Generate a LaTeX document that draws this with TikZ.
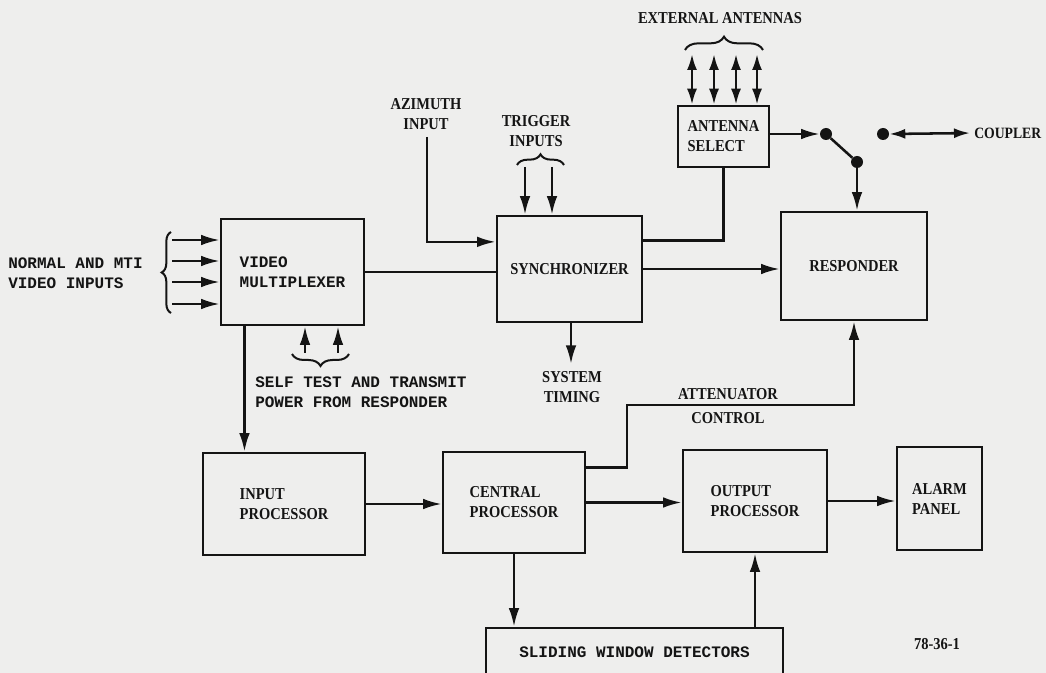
\documentclass[tikz,border=0pt]{standalone}
\usepackage{fontspec}
\setmainfont{Liberation Serif}
\newfontfamily\serifcond{Liberation Serif}[FakeStretch=0.87]
\newfontfamily\monofnt{Liberation Mono}
\usetikzlibrary{arrows.meta,decorations.pathreplacing,calc}
\newcommand\serifbf{\fontsize{12.5}{15}\selectfont\serifcond\bfseries}
\newcommand\monobf{\fontsize{12}{15}\selectfont\monofnt\bfseries}
\definecolor{paper}{RGB}{238,238,237}
\definecolor{ink}{RGB}{20,20,20}
\begin{document}
\begin{tikzpicture}[x=0.75pt,y=-0.75pt,
  box/.style={draw=ink,line width=1.9pt,inner sep=0pt,align=left,font=\serifbf,text=ink},
  lbl/.style={inner sep=0pt,align=center,font=\serifbf,text=ink},
  mlbl/.style={inner sep=0pt,align=left,font=\monobf,text=ink},
  wire/.style={draw=ink,line width=1.9pt},
  arr/.style={wire,-{Latex[length=14pt,width=8pt]}},
  darr/.style={wire,{Latex[length=12pt,width=7.5pt]}-{Latex[length=12pt,width=7.5pt]}},
  brc/.style={draw=ink,line width=1.5pt,decorate,decoration={brace,amplitude=#1}},
  dot/.style={circle,fill=ink,inner sep=0pt,minimum size=9pt}]
\useasboundingbox (0,0) rectangle (1046,673);
\clip (0,0) rectangle (1046,673);
\fill[paper] (0,0) rectangle (1046,673);

% boxes
\node[box,font=\monobf,minimum width=107.25pt,minimum height=79.5pt] (mux) at (292.5,272) {VIDEO\\MULTIPLEXER};
\node[box,minimum width=108.75pt,minimum height=79.5pt] (sync) at (569.5,269) {SYNCHRONIZER};
\node[box,minimum width=68.25pt,minimum height=45.75pt] (ant) at (723.5,136.5) {ANTENNA\\SELECT};
\node[box,minimum width=109.5pt,minimum height=81pt] (resp) at (854,266) {RESPONDER};
\node[box,minimum width=121.5pt,minimum height=76.5pt] (ip) at (284,504) {INPUT\\PROCESSOR};
\node[box,minimum width=106.5pt,minimum height=75.75pt] (cp) at (514,502.5) {CENTRAL\\PROCESSOR};
\node[box,minimum width=108pt,minimum height=76.5pt] (op) at (755,501) {OUTPUT\\PROCESSOR};
\node[box,minimum width=63.75pt,minimum height=77.25pt] (ap) at (939.5,498.5) {ALARM\\PANEL};
\node[box,font=\monobf,minimum width=222.75pt,minimum height=36pt] (swd) at (634.5,652) {SLIDING WINDOW DETECTORS};

% labels
\node[mlbl,anchor=west] (vin) at (8,273) {NORMAL AND MTI\\VIDEO INPUTS};
\node[mlbl,anchor=west] (stl) at (255,392) {SELF TEST AND TRANSMIT\\POWER FROM RESPONDER};
\node[lbl] (azl) at (426,114) {AZIMUTH\\INPUT};
\node[lbl] (trl) at (536,131) {TRIGGER\\INPUTS};
\node[lbl] (stt) at (572,387) {SYSTEM\\TIMING};
\node[lbl] (ext) at (720,18) {EXTERNAL ANTENNAS};
\node[lbl,font=\fontsize{12.5}{18}\selectfont\serifcond\bfseries] (att) at (728,406) {ATTENUATOR\\CONTROL};
\node[lbl,anchor=west,font=\fontsize{11.8}{15}\selectfont\serifcond\bfseries] (cpl) at (974,133) {COUPLER};
\node[lbl] (fig) at (937,644) {78-36-1};

% video inputs
\foreach \y [count=\i] in {240,261,282,304} {
  \coordinate (vi\i) at (172,\y);
  \draw[arr] (vi\i) -- (vi\i -| mux.west);
}
\draw[brc=7pt] (171,313) -- (171,232);

% feedback arrows under multiplexer
\foreach \x [count=\i] in {305,338} {
  \coordinate (fb\i) at (\x,353);
  \draw[arr] (fb\i) -- (fb\i |- mux.south);
}
\draw[brc=9pt] (349,354) -- (292,354);

% multiplexer -> synchronizer
\draw[wire] (mux.east) -- (mux.east -| sync.west);

% azimuth
\coordinate (az) at (427,137);
\draw[arr] (az) |- ($(sync.north west)!0.25!(sync.south west)$);

% trigger inputs
\foreach \x [count=\i] in {525,552} {
  \coordinate (tr\i) at (\x,167);
  \draw[arr] (tr\i) -- (tr\i |- sync.north);
}
\draw[brc=8pt] (517,165) -- (564,165);

% system timing
\coordinate (stc) at (571,364);
\draw[arr] (stc |- sync.south) -- (stc);

% synchronizer -> antenna select, responder
\draw[wire] ($(sync.north east)!0.236!(sync.south east)$) -| (ant.south);
\draw[arr] (sync.east) -- (sync.east -| resp.west);

% external antennas
\foreach \x [count=\i] in {692,714,736,757} {
  \coordinate (an\i) at (\x,54);
  \draw[darr] (an\i) -- (an\i |- ant.north);
}
\draw[brc=10pt] (685,50) -- (763,50);

% switch
\node[dot] (piv) at (826,134) {};
\node[dot] (con) at (857,162) {};
\draw[arr] (ant.east |- piv) -- (piv.west);
\draw[wire] (piv) -- (con);
\draw[arr] (con) -- (con |- resp.north);

% coupler
\node[dot] (cdot) at (883,134) {};
\draw[darr,shorten >=3pt] (cdot.east) -- (cpl.west);

% attenuator control
\coordinate (atc) at (627,405);
\draw[arr] ($(cp.north east)!0.16!(cp.south east)$) -| (atc) -| (resp.south);

% processing chain
\coordinate (m1) at ($(mux.south west)!0.17!(mux.south east)$);
\draw[arr] (m1) -- (m1 |- ip.north);
\draw[arr] (ip.east) -- (ip.east -| cp.west);
\draw[arr] (cp.east) -- (cp.east -| op.west);
\draw[arr] (op.east) -- (op.east -| ap.west);
\draw[arr] (cp.south) -- (cp.south |- swd.north);
\draw[arr] (op.south |- swd.north) -- (op.south);
\end{tikzpicture}
\end{document}
